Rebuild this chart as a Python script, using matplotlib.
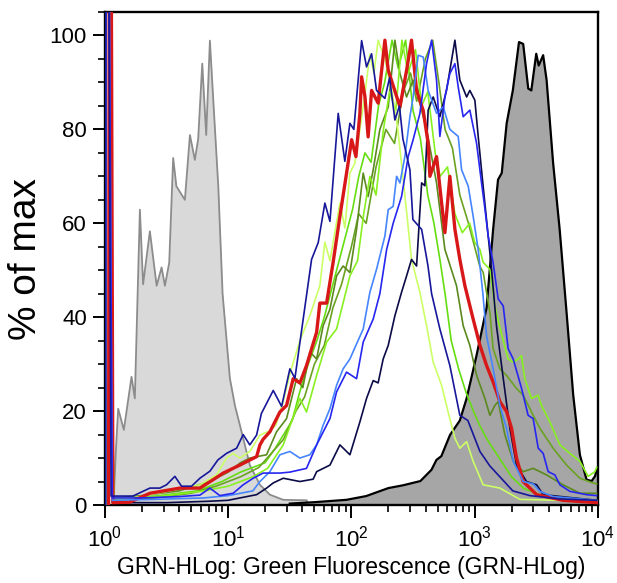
import numpy as np
import matplotlib
matplotlib.use("Agg")
import matplotlib.pyplot as plt
from matplotlib.ticker import FixedLocator, MultipleLocator, NullFormatter

plt.rcParams["font.family"] = ["Liberation Sans", "DejaVu Sans"]
plt.rcParams["mathtext.fontset"] = "custom"
plt.rcParams["mathtext.rm"] = "Liberation Sans"

# histogram traces, positions are log10(fluorescence), heights are % of max

# negative control (light grey, filled)
neg_L = [0.07, 0.09, 0.108, 0.154, 0.216, 0.243, 0.284, 0.31, 0.365, 0.42, 0.46, 0.487,
         0.522, 0.554, 0.58, 0.649, 0.69, 0.73, 0.757, 0.79, 0.822, 0.852, 0.88, 0.92,
         0.955, 1.014, 1.055, 1.109, 1.176, 1.258, 1.339, 1.447, 1.638, 1.65]
neg_y = [0, 12, 20.5, 16, 27.3, 22.7, 62.9, 47, 58.3, 46.7, 50.6, 46.7,
         51.6, 73.9, 67.9, 65, 78.8, 73.5, 78, 94, 78.8, 98.9, 86, 67.9,
         45, 27, 21.2, 15.6, 8.5, 4.3, 2.2, 1.1, 1.0, 0]

# positive control (dark grey, filled)
pos_L = [1.5, 1.7, 1.96, 2.12, 2.3, 2.42, 2.56, 2.65, 2.69, 2.73, 2.8, 2.88, 2.935,
         3.015, 3.097, 3.15, 3.19, 3.22, 3.26, 3.31, 3.36, 3.394, 3.435, 3.46, 3.5,
         3.52, 3.556, 3.584, 3.637, 3.69, 3.746, 3.8, 3.854, 3.908, 3.949, 3.976, 3.995]
pos_y = [0.3, 0.6, 1.1, 1.9, 3.6, 4.2, 5.1, 7.5, 9.6, 10.4, 14.9, 18, 22.7,
         31.8, 42, 58.7, 69.3, 70.7, 81.3, 88.3, 98.6, 98.2, 88.7, 88.3, 96.1,
         93.6, 95.8, 90.5, 72.8, 58.7, 41, 23.4, 10.7, 5.4, 5.1, 6.1, 7.8]

navy_L = [0.004, 0.008, 0.03, 0.05, 0.227, 0.365, 0.446, 0.5, 0.568, 0.622, 0.703, 0.771,
          0.852, 0.917, 0.987, 1.069, 1.122, 1.176, 1.231, 1.27, 1.366, 1.434, 1.501,
          1.542, 1.609, 1.677, 1.731, 1.785, 1.826, 1.893, 1.947, 1.988, 2.02, 2.083,
          2.123, 2.164, 2.204, 2.272, 2.31, 2.353, 2.39, 2.418, 2.475, 2.499, 2.57,
          2.621, 2.651, 2.718, 2.799, 2.88, 2.945, 3.043, 3.124, 3.205, 3.31, 3.448,
          3.69, 3.99]
navy_y = [0, 130, 130, 1.9, 1.9, 3.6, 3.6, 4.3, 6.1, 4.0, 4.0, 5.7,
          7.2, 9.6, 11, 12.1, 15, 12.8, 14.9, 19.5, 24.4, 21, 29,
          27, 39.6, 52.3, 55.9, 64.3, 60.4, 83.4, 73.2, 81.3, 80, 98.9,
          93.3, 96.1, 88.3, 86.6, 91, 82, 85, 78, 71.4, 60.8, 58.7,
          51, 45, 37.5, 29.7, 19.1, 18, 11.4, 8.3, 6, 3, 2,
          1.3, 1]

red_L = [0.03, 0.036, 0.05, 0.065, 0.2, 0.365, 0.609, 0.771, 0.879, 0.96, 1.095, 1.231,
         1.258, 1.284, 1.339, 1.42, 1.474, 1.528, 1.582, 1.636, 1.718, 1.744, 1.799,
         1.852, 1.907, 1.961, 2.002, 2.037, 2.069, 2.083, 2.11, 2.136, 2.164, 2.217,
         2.272, 2.299, 2.394, 2.448, 2.488, 2.529, 2.583, 2.623, 2.637, 2.691, 2.732,
         2.759, 2.799, 2.84, 2.88, 2.921, 2.988, 3.043, 3.097, 3.15, 3.205, 3.259,
         3.3, 3.34, 3.394, 3.503, 3.716, 3.99]
red_y = [0, 130, 130, 0.5, 0.6, 2.5, 3.6, 3.6, 5.4, 6.8, 8.5, 10.3,
         12.8, 14, 15.6, 19.8, 21.2, 26.9, 26, 29.7, 36.8, 43, 43,
         51.7, 61.5, 70.7, 77.8, 74.2, 83.4, 91.2, 87, 78.4, 88.3, 85.6,
         99, 92.6, 84.8, 92.6, 99, 88.3, 84, 77, 70, 74.2, 64.3,
         58, 70, 58.7, 52.3, 46.7, 39.6, 34, 29.7, 26.2, 22, 19.9,
         16.3, 10, 5, 2.2, 1, 0.5]

yg_L = [0.006, 0.01, 0.03, 0.07, 0.227, 0.5, 0.771, 0.906, 0.987, 1.041, 1.095, 1.176,
        1.258, 1.339, 1.387, 1.447, 1.501, 1.582, 1.663, 1.744, 1.785, 1.826, 1.907,
        1.947, 1.988, 2.028, 2.069, 2.11, 2.15, 2.183, 2.217, 2.272, 2.329, 2.377,
        2.426, 2.488, 2.556, 2.61, 2.664, 2.732, 2.785, 2.84, 2.88, 2.935, 2.988,
        3.069, 3.205, 3.367, 3.99]
yg_y = [0, 130, 130, 1.5, 1.5, 2.9, 4.3, 6.4, 10, 11, 10, 11.4,
        14.9, 15.8, 17, 22, 28, 35, 40.3, 46.7, 56, 52, 64.3,
        59, 70.7, 72.8, 80, 87.6, 96, 91.9, 99, 95, 88, 80,
        68, 52.3, 45.3, 38.2, 30.4, 25.5, 19.8, 14.2, 12.1, 13.5, 9.3,
        4.3, 3.6, 1.2, 0.8]

olive_L = [0.007, 0.011, 0.032, 0.07, 0.3, 0.6, 0.85, 1.0, 1.1, 1.176, 1.312, 1.393,
           1.474, 1.555, 1.606, 1.663, 1.718, 1.771, 1.826, 1.88, 1.933, 1.988, 2.042,
           2.096, 2.136, 2.177, 2.231, 2.299, 2.353, 2.394, 2.448, 2.501, 2.556, 2.61,
           2.651, 2.691, 2.732, 2.759, 2.785, 2.853, 2.907, 2.961, 3.016, 3.083, 3.124,
           3.164, 3.191, 3.245, 3.313, 3.394, 3.475, 3.584, 3.718, 3.854, 3.99]
olive_y = [0, 130, 130, 1.5, 2, 3, 5, 7, 9, 10, 10.7, 15.6,
           18.4, 26.9, 25, 32.6, 31.1, 38.2, 41.7, 48.8, 50.9, 49.5, 58.7,
           70.7, 65.7, 71.4, 80, 84.8, 99, 91.9, 86.9, 90.5, 85.5, 80,
           74.2, 68.6, 60, 54.4, 52.3, 46.7, 38.2, 34, 27.6, 22.7, 19.1,
           21.2, 22, 15, 9.3, 7.1, 7.8, 6.4, 4.3, 2.5, 2.5]

gmed_L = [0.007, 0.011, 0.033, 0.07, 0.4, 0.7, 0.9, 1.1, 1.25, 1.35, 1.45, 1.55,
          1.62, 1.7, 1.78, 1.85, 1.92, 2.0, 2.06, 2.12, 2.2, 2.28, 2.35, 2.42,
          2.48, 2.53, 2.6, 2.66, 2.71, 2.76, 2.82, 2.88, 2.95, 3.0, 3.04, 3.07,
          3.124, 3.15, 3.205, 3.259, 3.34, 3.394, 3.475, 3.53, 3.637, 3.746, 3.854,
          3.96, 3.99]
gmed_y = [0, 130, 130, 1, 1.5, 2.5, 4, 6, 8, 11, 14, 20,
          23, 30, 34, 42, 47, 55, 62, 60, 72, 80, 77, 88,
          92, 86, 95, 99, 90, 80, 76, 66, 60, 55, 51, 49.5,
          41, 33.3, 29, 27.6, 24.8, 23.4, 19.1, 16.3, 12.1, 8.5, 5.7,
          4.7, 4.5]

chart_L = [0.007, 0.011, 0.033, 0.07, 0.5, 0.8, 1.0, 1.2, 1.32, 1.447, 1.582, 1.636,
           1.718, 1.799, 1.88, 1.988, 2.05, 2.1, 2.15, 2.2, 2.26, 2.31, 2.36, 2.41,
           2.46, 2.52, 2.57, 2.62, 2.68, 2.72, 2.78, 2.84, 2.9, 2.96, 3.0, 3.043,
           3.069, 3.124, 3.164, 3.218, 3.272, 3.313, 3.353, 3.38, 3.407, 3.461, 3.515,
           3.542, 3.61, 3.692, 3.773, 3.854, 3.921, 3.976, 3.99]
chart_y = [0, 130, 130, 1, 2, 3, 4, 6, 7.8, 12.8, 22.7, 19.8,
           27.6, 34.7, 37.5, 48.8, 52, 62, 70, 66, 80, 88, 84, 99,
           92, 97, 85, 88, 75, 70, 72, 62, 58, 60, 56, 54.4,
           51.7, 50.2, 42.4, 36.4, 31.1, 30.4, 31.1, 31.8, 26.9, 22.7, 23.4,
           21.2, 17.7, 12.8, 11, 9.3, 6.1, 7.1, 8]

g2_L = [0.007, 0.011, 0.033, 0.07, 0.45, 0.75, 0.95, 1.1, 1.2, 1.3, 1.38, 1.45,
        1.52, 1.58, 1.65, 1.72, 1.78, 1.84, 1.9, 1.96, 2.01, 2.06, 2.11, 2.16,
        2.22, 2.27, 2.33, 2.38, 2.44, 2.5, 2.56, 2.62, 2.67, 2.72, 2.76, 2.81,
        2.87, 2.93, 2.99, 3.04, 3.1, 3.2, 3.3, 3.4, 3.55, 3.8, 3.99]
g2_y = [0, 130, 130, 1.2, 2, 3, 5, 7, 8, 9, 12, 15,
        18, 24, 30, 35, 40, 46, 52, 58, 63, 70, 75, 73,
        85, 90, 99, 93, 99, 84, 78, 66, 60, 52, 45, 35,
        29, 24, 20, 17, 14, 10, 6, 3.5, 2, 1.2, 1]

blue_L = [0.004, 0.008, 0.03, 0.06, 0.3, 0.609, 0.771, 0.852, 0.933, 1.041, 1.122, 1.203,
          1.284, 1.42, 1.5, 1.636, 1.718, 1.826, 1.88, 1.961, 2.042, 2.096, 2.177,
          2.231, 2.286, 2.339, 2.407, 2.461, 2.501, 2.556, 2.61, 2.651, 2.691, 2.718,
          2.759, 2.799, 2.84, 2.867, 2.907, 2.961, 3.016, 3.056, 3.083, 3.11, 3.15,
          3.191, 3.232, 3.272, 3.313, 3.381, 3.434, 3.475, 3.516, 3.556, 3.597, 3.651,
          3.692, 3.773, 3.908, 3.99]
blue_y = [0, 130, 130, 1.5, 1.5, 1.8, 2.1, 3.6, 2, 2.5, 4.3, 5.7,
          6.8, 6.8, 7, 7.8, 12.8, 18.4, 24.1, 28.3, 26.9, 34.7, 39.6,
          45, 54.4, 60, 65.7, 74.2, 77.8, 83.4, 94, 99, 90.5, 78.5,
          86.9, 91.9, 94, 89, 82.7, 84.1, 77, 68.6, 63.2, 57.3, 51.6,
          43.9, 42.4, 33.3, 31.1, 24.8, 19.1, 18.4, 12.1, 11, 7.1, 6.4,
          4.3, 2.9, 2.2, 2]

lblue_L = [0.005, 0.009, 0.031, 0.06, 0.4, 0.8, 1.0, 1.2, 1.258, 1.339, 1.42, 1.501,
           1.582, 1.663, 1.718, 1.771, 1.826, 1.88, 1.933, 1.988, 2.096, 2.15, 2.204,
           2.272, 2.299, 2.339, 2.367, 2.394, 2.434, 2.475, 2.501, 2.542, 2.583, 2.623,
           2.691, 2.745, 2.799, 2.867, 2.894, 2.948, 2.988, 3.029, 3.067, 3.097, 3.15,
           3.205, 3.259, 3.313, 3.394, 3.475, 3.53, 3.637, 3.99]
lblue_y = [0, 130, 130, 1, 1.2, 1.5, 2, 3, 5, 7.1, 10.7, 11.4,
           10, 10.7, 12.8, 17, 20.5, 25.5, 29, 31.1, 37.5, 45.3, 50.2,
           57.3, 62.9, 63.6, 70, 68.6, 74.2, 82.7, 86.9, 95.8, 95.4, 88.3,
           83.4, 84.8, 80, 78.5, 71.4, 67.9, 61.5, 54.4, 45, 36, 29,
           21.2, 16.3, 9.3, 5, 4.5, 2.9, 1.8, 1]

dnavy_L = [0.005, 0.009, 0.031, 0.06, 0.5, 0.85, 1.0, 1.095, 1.231, 1.312, 1.366, 1.447,
           1.582, 1.69, 1.718, 1.826, 1.907, 1.988, 2.069, 2.123, 2.177, 2.217, 2.258,
           2.299, 2.353, 2.407, 2.448, 2.488, 2.529, 2.57, 2.596, 2.623, 2.664, 2.718,
           2.772, 2.84, 2.88, 2.935, 2.961, 3.002, 3.029, 3.069, 3.11, 3.137, 3.178,
           3.232, 3.286, 3.34, 3.421, 3.503, 3.556, 3.99]
dnavy_y = [0, 130, 130, 0.5, 0.5, 0.8, 1, 1.5, 2.2, 3.6, 4.7, 5.7,
           5, 5.5, 7.1, 8.5, 12.8, 10.7, 17.7, 22.7, 26.5, 26, 31.1,
           34, 40.3, 45.3, 48.8, 52.3, 50.9, 68.6, 68, 84.1, 86.9, 82.7,
           88.3, 99, 90.5, 86.9, 88.3, 86.2, 78.5, 67.9, 57.3, 50.2, 38,
           27, 16.3, 8.5, 5, 4.3, 2.2, 1]

lines = [
    (g2_L, g2_y, "#66dd11", 1.2),
    (gmed_L, gmed_y, "#6aa222", 1.2),
    (olive_L, olive_y, "#5b8a1e", 1.2),
    (chart_L, chart_y, "#88f020", 1.2),
    (yg_L, yg_y, "#ccff66", 1.2),
    (dnavy_L, dnavy_y, "#0b0b48", 1.2),
    (red_L, red_y, "#d81818", 2.4),
    (lblue_L, lblue_y, "#4585ff", 1.2),
    (blue_L, blue_y, "#2626f0", 1.2),
    (navy_L, navy_y, "#17179a", 1.2),
]

fig = plt.figure(figsize=(6.17, 5.83), dpi=100)
ax = fig.add_axes([0.170, 0.1338, 0.799, 0.8456])
ax.set_xscale("log")

nx = 10 ** np.array(neg_L)
ax.fill_between(nx, neg_y, color="#d9d9d9", lw=0, zorder=1)
ax.plot(nx, neg_y, color="#8c8c8c", lw=1.3, zorder=1.5)

px = 10 ** np.array(pos_L)
ax.fill_between(px, pos_y, color="#a6a6a6", lw=0, zorder=2)
ax.plot(px, pos_y, color="black", lw=1.6, zorder=2.5)

for i, (L, y, c, w) in enumerate(lines):
    ax.plot(10 ** np.array(L), y, color=c, lw=w, zorder=3 + i * 0.1)

ax.set_xlim(1, 1e4)
ax.set_ylim(0, 105)

ax.xaxis.set_major_locator(FixedLocator([1, 10, 100, 1000, 10000]))
ax.set_xticklabels([r"$10^{0}$", r"$10^{1}$", r"$10^{2}$", r"$10^{3}$", r"$10^{4}$"])
minors = [m * 10 ** d for d in range(4) for m in range(2, 10)]
ax.xaxis.set_minor_locator(FixedLocator(minors))
ax.xaxis.set_minor_formatter(NullFormatter())
ax.yaxis.set_major_locator(FixedLocator([0, 20, 40, 60, 80, 100]))
ax.yaxis.set_minor_locator(MultipleLocator(5))

ax.tick_params(which="major", direction="out", length=9, width=1.4, labelsize=16, pad=4)
ax.tick_params(which="minor", direction="out", length=5, width=1.2)
ax.tick_params(axis="x", which="major", pad=6)
for s in ax.spines.values():
    s.set_linewidth(1.7)

ax.set_ylabel("% of max", fontsize=28, labelpad=4)
ax.set_xlabel("GRN-HLog: Green Fluorescence (GRN-HLog)", fontsize=16.5, labelpad=3)

fig.savefig("out.png", dpi=100)
